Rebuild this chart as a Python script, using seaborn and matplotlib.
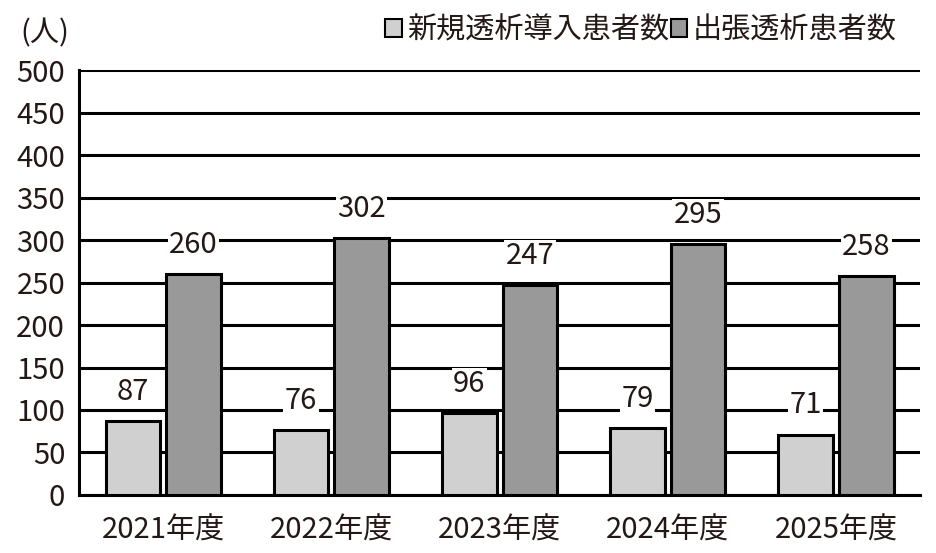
import pandas as pd
import matplotlib
matplotlib.use('Agg')
import matplotlib.pyplot as plt
import seaborn as sns
from matplotlib.patches import Patch

years = ['2021年度', '2022年度', '2023年度', '2024年度', '2025年度']
new_patients = [87, 76, 96, 79, 71]
visit_patients = [260, 302, 247, 295, 258]
series_names = ['新規透析導入患者数', '出張透析患者数']

data = pd.DataFrame({
    'year': years * 2,
    'value': new_patients + visit_patients,
    'series': [series_names[0]] * 5 + [series_names[1]] * 5,
})

sns.set_style('white')
plt.rcParams['font.family'] = ['Noto Sans CJK JP', 'DejaVu Sans']
txt = '#231815'

fig = plt.figure(figsize=(9.37, 5.53), dpi=100)
ax = fig.add_axes([0.0843, 0.105, 0.8977, 0.768])

colors = {series_names[0]: '#d0d0d0', series_names[1]: '#999999'}
sns.barplot(data=data, x='year', y='value', hue='series', palette=colors,
            width=0.72, gap=0.1, edgecolor='black', linewidth=2.2,
            legend=False, ax=ax, zorder=3)

ax.set_ylim(0, 500)
ax.set_yticks(range(0, 501, 50))
ax.yaxis.grid(True, color='black', linewidth=2.2, zorder=0)
ax.set_axisbelow(True)
ax.set_xlim(-0.5, 4.5)
ax.set_xlabel('')
ax.set_ylabel('')
for s in ['left', 'bottom']:
    ax.spines[s].set_color('black')
    ax.spines[s].set_linewidth(2.2)
for s in ['top', 'right']:
    ax.spines[s].set_visible(False)

ax.tick_params(axis='y', labelsize=21, length=0, colors=txt, pad=10)
ax.tick_params(axis='x', labelsize=21, length=0, colors=txt, pad=15)
ax.set_xticks([0.5, 1.5, 2.5, 3.5], minor=True)
ax.tick_params(axis='x', which='minor', direction='in', length=6, width=2)

for container in ax.containers:
    for bar in container:
        h = bar.get_height()
        ax.annotate(f'{int(h)}', (bar.get_x() + bar.get_width() / 2, h),
                    xytext=(0, 21), textcoords='offset points',
                    ha='center', va='center', fontsize=21, color=txt,
                    bbox=dict(boxstyle='square,pad=0.05', fc='white', ec='none'),
                    zorder=5)

fig.text(0.022, 0.94, '(人)', fontsize=21, color=txt, ha='left', va='center')

handles = [Patch(facecolor=colors[n], edgecolor='black', linewidth=1.5, label=n)
           for n in series_names]
fig.legend(handles=handles, loc='center right', bbox_to_anchor=(0.985, 0.945),
           ncol=2, frameon=False, fontsize=21, handlelength=0.55, handleheight=0.55,
           handletextpad=0.2, columnspacing=0.05, labelcolor=txt)

plt.savefig('out.png', dpi=100)
